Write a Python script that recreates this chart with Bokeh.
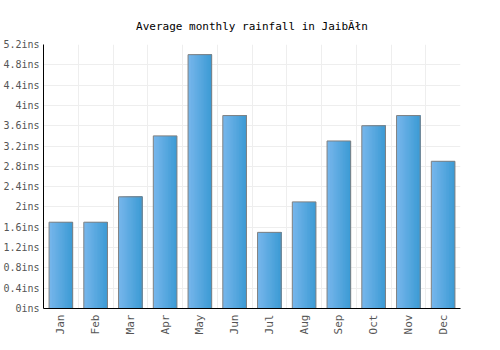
from bokeh.plotting import figure
from bokeh.models import Range1d, FixedTicker
from bokeh.embed import file_html
from bokeh.resources import INLINE

months = ["Jan", "Feb", "Mar", "Apr", "May", "Jun", "Jul", "Aug", "Sep", "Oct", "Nov", "Dec"]
rainfall = [1.7, 1.7, 2.2, 3.4, 5.0, 3.8, 1.5, 2.1, 3.3, 3.6, 3.8, 2.9]
y_ticks = [0, 0.4, 0.8, 1.2, 1.6, 2, 2.4, 2.8, 3.2, 3.6, 4, 4.4, 4.8, 5.2]
y_labels = ["0ins", "0.4ins", "0.8ins", "1.2ins", "1.6ins", "2ins", "2.4ins", "2.8ins",
            "3.2ins", "3.6ins", "4ins", "4.4ins", "4.8ins", "5.2ins"]

FONT = "DejaVu Sans Mono"
centers = [i + 0.5 for i in range(len(months))]

p = figure(width=500, height=350, output_backend="svg", toolbar_location=None,
           x_range=Range1d(0, len(months)), y_range=Range1d(0, 5.2),
           title="Average monthly rainfall in JaibĂłn",
           min_border_left=40, min_border_right=40, min_border_bottom=42, min_border_top=44)
p.outline_line_color = None
p.title.align = "center"
p.title.text_font = FONT
p.title.text_font_size = "11px"
p.title.text_font_style = "normal"
p.title.text_color = "#000000"
p.title.offset = 0
p.title.standoff = 24

# gradient bars from layered slices anchored at the right edge
bar_w = 0.68
n = 16
c0 = (0x76, 0xb6, 0xeb)
c1 = (0x3d, 0x9b, 0xd5)
sw = bar_w / n
for k in range(n):
    t = k / (n - 1)
    col = "#%02x%02x%02x" % tuple(int(round(a + (b - a) * t)) for a, b in zip(c0, c1))
    w = bar_w - sw * k
    off = bar_w / 2 - w / 2
    p.vbar(x=[c + off for c in centers], top=rainfall, bottom=0, width=w,
           fill_color=col, line_color=None)
p.vbar(x=centers, top=rainfall, bottom=0, width=bar_w, fill_color=None,
       line_color="#808080", line_width=1)

p.xaxis.ticker = FixedTicker(ticks=centers)
p.xaxis.major_label_overrides = {c: m for c, m in zip(centers, months)}
p.xaxis.major_label_orientation = 1.5708
p.yaxis.ticker = FixedTicker(ticks=y_ticks)
p.yaxis.major_label_overrides = {t: l for t, l in zip(y_ticks, y_labels)}
for ax in (p.xaxis, p.yaxis):
    ax.axis_line_color = "#000000"
    ax.major_tick_line_color = None
    ax.minor_tick_line_color = None
    ax.major_tick_out = 0
    ax.major_tick_in = 0
    ax.minor_tick_out = 0
    ax.minor_tick_in = 0
    ax.major_label_text_font = FONT
    ax.major_label_text_font_size = "10px"
    ax.major_label_text_color = "#555555"
p.xaxis.major_label_text_font_size = "11px"
p.xaxis.major_label_standoff = 6
p.yaxis.major_label_standoff = 4

p.xgrid.ticker = FixedTicker(ticks=list(range(len(months) + 1)))
p.xgrid.grid_line_color = "#eeeeee"
p.ygrid.grid_line_color = "#eeeeee"

open("out.html", "w").write(file_html(p, INLINE))
